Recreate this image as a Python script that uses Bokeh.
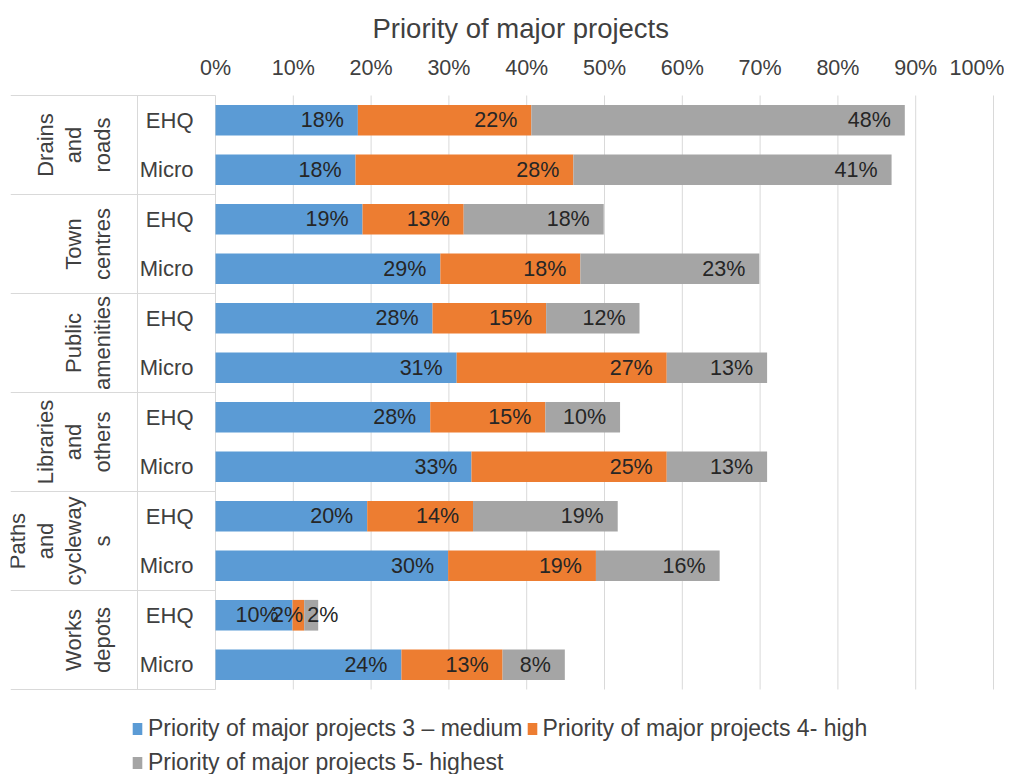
import math
from bokeh.plotting import figure
from bokeh.models import (ColumnDataSource, Range1d, FixedTicker,
                          PrintfTickFormatter, Legend, LegendItem)
from bokeh.core.properties import value
from bokeh.embed import file_html
from bokeh.resources import INLINE

# ---------------- data (top-to-bottom order, values in %) ----------------
groups = ["Drains and roads", "Town centres", "Public amenities",
          "Libraries and others", "Paths and cycleways", "Works depots"]
group_labels = ["Drains\nand\nroads", "Town\ncentres", "Public\namenities",
                "Libraries\nand\nothers", "Paths\nand\ncycleway\ns", "Works\ndepots"]
subgroups = ["EHQ", "Micro"]

medium = [18.3, 18.0, 18.9, 28.9, 27.9, 31.0, 27.6, 32.9, 19.5, 29.9, 9.9, 23.9]
high = [22.3, 28.0, 13.0, 18.0, 14.6, 27.0, 14.8, 25.1, 13.6, 19.0, 1.5, 13.0]
highest = [48.0, 40.9, 18.0, 23.0, 12.0, 12.9, 9.6, 12.9, 18.6, 15.9, 1.8, 8.0]

series_keys = ["medium", "high", "highest"]
series_names = ["Priority of major projects 3 \u2013 medium",
                "Priority of major projects 4- high",
                "Priority of major projects 5- highest"]
colors = ["#5B9BD5", "#ED7D31", "#A5A5A5"]
x_ticks = [0, 10, 20, 30, 40, 50, 60, 70, 80, 90, 100]
title_text = "Priority of major projects"

# ---------------- layout / style ----------------
FONT = "Liberation Sans"
PX100 = 778            # pixels for 0..100 %
CAT_W = 205            # width of the category table left of 0 %
RIGHT_PAD = 3
LEFT_B, TOP_B = 10, 94
CANVAS_H = 774
FRAME_H = CANVAS_H - TOP_B
ROW_PX = 49.5          # pixels per category row
GRID = "#d9d9d9"
TXT = "#404040"


def px_to_x(px):
    """horizontal pixel offset from the 0% line -> x data units"""
    return px * 100.0 / PX100


rows = [(g, s) for g in groups for s in subgroups]      # top-to-bottom
n_rows = len(rows)
per = len(subgroups)
row_y = [n_rows - i - 0.5 for i in range(n_rows)]

x_min = px_to_x(-CAT_W)
x_max = 100 + px_to_x(RIGHT_PAD)
frame_w = CAT_W + PX100 + RIGHT_PAD
y_top = n_rows + 1.0 / ROW_PX
y_bot = y_top - FRAME_H / ROW_PX

src = ColumnDataSource(dict(y=row_y, medium=medium, high=high, highest=highest))

p = figure(
    x_range=Range1d(x_min, x_max), y_range=Range1d(y_bot, y_top),
    x_axis_location="above",
    frame_width=frame_w, frame_height=FRAME_H,
    min_border_left=LEFT_B, min_border_top=TOP_B, min_border_right=8,
    min_border_bottom=0,
    output_backend="svg", toolbar_location=None,
)
p.outline_line_color = None
p.background_fill_color = "white"
p.border_fill_color = "white"
p.xgrid.grid_line_color = None
p.ygrid.grid_line_color = None

# ---------------- gridlines + category table lines ----------------
bounds = list(range(0, n_rows + 1, per))
x_mid = px_to_x(-78)
lines = dict(
    x0=list(x_ticks) + [x_min] * len(bounds) + [x_mid],
    y0=[0] * len(x_ticks) + bounds + [0],
    x1=list(x_ticks) + [0] * len(bounds) + [x_mid],
    y1=[n_rows] * len(x_ticks) + bounds + [n_rows],
)
p.segment(x0="x0", y0="y0", x1="x1", y1="y1", source=ColumnDataSource(lines),
          line_color=GRID, line_width=1)

bars = p.hbar_stack(series_keys, y="y", height=0.62, color=colors,
                    source=src, line_color=None)

# ---------------- data labels ----------------
series = [medium, high, highest]
lab = dict(x=[], y=[], text=[], xoff=[])
lab_left = dict(x=[], y=[], text=[], xoff=[])
for i in range(n_rows):
    start = 0.0
    for k, vals in enumerate(series):
        v = vals[i]
        end = start + v
        txt = f"{int(v + 0.5)}%"
        if v < 2.5 and k == len(series) - 1:
            d = lab_left
            d["x"].append(start); d["xoff"].append(3)
        elif v < 2.5:
            d = lab
            d["x"].append(end); d["xoff"].append(-1)
        else:
            d = lab
            d["x"].append(end); d["xoff"].append(-14)
        d["y"].append(row_y[i])
        d["text"].append(txt)
        start = end

for d, align in ((lab, "right"), (lab_left, "left")):
    p.text(x="x", y="y", text="text", x_offset="xoff",
           source=ColumnDataSource(d), text_align=align,
           text_baseline="middle", text_font=value(FONT),
           text_font_size="21.5px", text_color="#262626")

# ---------------- axes ----------------
xa = p.xaxis[0]
xa.ticker = FixedTicker(ticks=x_ticks)
xa.formatter = PrintfTickFormatter(format="%d%%")
xa.axis_line_color = None
xa.major_tick_line_color = None
xa.minor_tick_line_color = None
xa.major_tick_out = 0
xa.major_label_standoff = 15
xa.major_label_text_font = FONT
xa.major_label_text_font_size = "21.5px"
xa.major_label_text_color = TXT

p.yaxis.visible = False

# ---------------- category labels ----------------
p.text(x=[0] * n_rows, y=row_y, text=[r[1] for r in rows], x_offset=-22,
       text_align="right", text_baseline="middle", text_font=value(FONT),
       text_font_size="22px", text_color=TXT)

gsrc = ColumnDataSource(dict(
    x=[px_to_x(-101)] * len(groups),
    y=[n_rows - per * i - per / 2.0 for i in range(len(groups))],
    text=group_labels))
p.text(x="x", y="y", text="text", source=gsrc, angle=math.pi / 2,
       text_align="center", text_baseline="bottom", text_font=value(FONT),
       text_font_size="22px", text_line_height=1.13, text_color=TXT)

# ---------------- title ----------------
p.title.text = title_text
p.title.align = "left"
p.title.offset = 362
p.title.standoff = 18
p.title.text_font = FONT
p.title.text_font_size = "27.5px"
p.title.text_font_style = "normal"
p.title.text_color = TXT

# ---------------- legend ----------------
legend = Legend(
    items=[LegendItem(label=n, renderers=[r]) for n, r in zip(series_names, bars)],
    orientation="horizontal", ncols=2, location=(121, -4),
    padding=0, margin=0, spacing=3, border_line_color=None,
    background_fill_alpha=0, label_text_font=FONT, label_text_font_size="23px",
    label_text_color=TXT, glyph_width=12, glyph_height=15, label_standoff=5,
    label_height=31,
)
p.add_layout(legend)

open("out.html", "w").write(file_html(p, INLINE))
